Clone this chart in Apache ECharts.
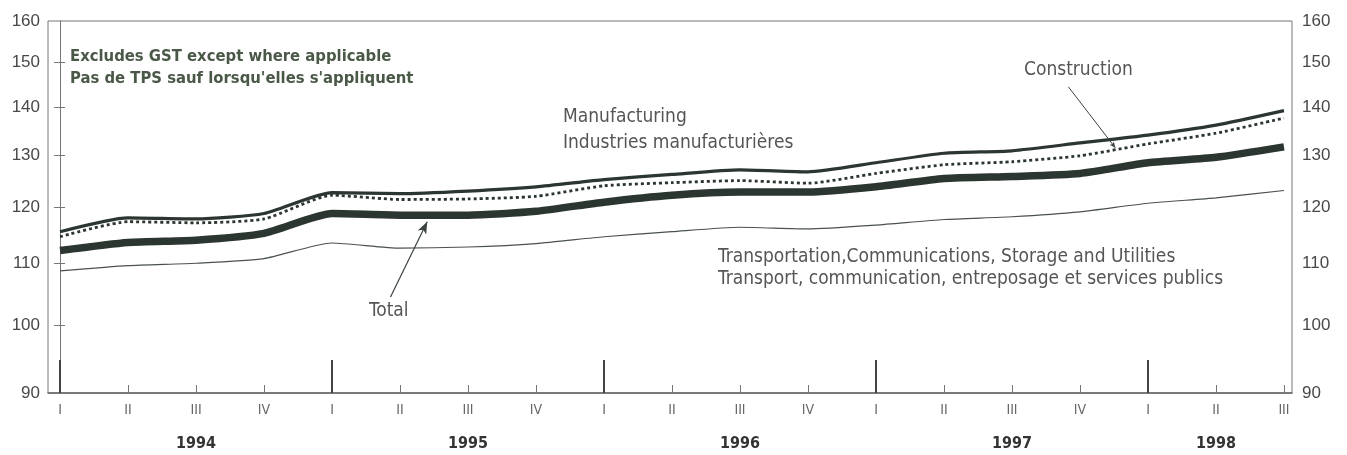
<!DOCTYPE html>
<html>
<head>
<meta charset="utf-8">
<script src="https://cdn.jsdelivr.net/npm/echarts@6/dist/echarts.min.js"></script>
<style>
html, body { margin: 0; padding: 0; background: #fff; }
#main { width: 1347px; height: 455px; }
</style>
</head>
<body>
<div id="main"></div>
<script>
// quarterly index, 1994 Q1 .. 1998 Q3
var quarters = ['I','II','III','IV','I','II','III','IV','I','II','III','IV','I','II','III','IV','I','II','III'];
var years = ['1994','1995','1996','1997','1998'];
var yTicks = [90, 100, 110, 120, 130, 140, 150, 160];

var manufacturing = [115.5,118,117.8,118.8,122.7,122.5,123,123.8,125.2,126.2,127.1,126.7,128.5,130.4,130.9,132.5,134.1,136.2,139.3];
var construction  = [114.6,117.3,117.1,117.8,122.2,121.4,121.5,122,124,124.6,125,124.5,126.4,128.1,128.7,129.9,132.3,134.5,137.7];
var total         = [112.2,113.6,114,115.2,118.8,118.5,118.5,119.2,120.9,122.2,122.8,122.8,123.8,125.4,125.8,126.4,128.5,129.6,131.7];
var transport     = [108.7,109.6,110,110.8,113.5,112.6,112.8,113.4,114.6,115.5,116.3,116,116.7,117.7,118.2,119.1,120.7,121.7,123.1];

var chart = echarts.init(document.getElementById('main'));

var narrow = "'Liberation Sans Narrow', 'DejaVu Sans Condensed', sans-serif";
var lineColor = '#2c3630';

function pairs(arr) {
    return arr.map(function (v, i) { return [i, v]; });
}

// quarter ticks (small) and year-start ticks (tall)
var qIdx = [], smallTicks = [], yearTicks = [], yearLabelAt = [];
quarters.forEach(function (q, i) {
    qIdx.push(i);
    if (q === 'I') yearTicks.push(i); else smallTicks.push(i);
});
yearTicks.forEach(function (s) {
    // year label sits under the third quarter (or middle of what is there)
    var last = Math.min(s + 3, quarters.length - 1);
    yearLabelAt.push(Math.min(s + 2, Math.round((s + last) / 2)));
});

var xMin = -0.177, xMax = 18.118;

var option = {
    animation: false,
    grid: {
        left: 48, right: 55, top: 21, bottom: 62,
        show: true, borderColor: '#777', borderWidth: 1
    },
    xAxis: [
        {
            type: 'value', min: xMin, max: xMax,
            axisLine: { show: true, lineStyle: { color: '#666', width: 1.5 } },
            axisTick: { show: true, inside: true, length: 8, customValues: smallTicks, lineStyle: { color: '#777' } },
            axisLabel: {
                customValues: qIdx, margin: 10, color: '#666', fontSize: 14, fontFamily: narrow,
                formatter: function (v) { return quarters[Math.round(v)]; }
            },
            splitLine: { show: false }
        },
        {
            type: 'value', min: xMin, max: xMax, position: 'bottom',
            axisLine: { show: false },
            axisTick: { show: true, inside: true, length: 33, customValues: yearTicks, lineStyle: { color: '#444', width: 2 } },
            axisLabel: {
                customValues: yearLabelAt, margin: 43, color: '#333', fontSize: 16, fontWeight: 'bold', fontFamily: narrow,
                formatter: function (v) {
                    var k = yearLabelAt.indexOf(Math.round(v));
                    return years[k];
                }
            },
            splitLine: { show: false }
        }
    ],
    yAxis: [
        {
            type: 'log', logBase: 10, min: 90, max: 160, position: 'left',
            axisLine: { show: true, lineStyle: { color: '#777' } },
            axisTick: { show: true, inside: true, length: 5, customValues: yTicks.slice(1, -1), lineStyle: { color: '#777' } },
            axisLabel: { customValues: yTicks, margin: 8, color: '#484848', fontSize: 17, fontFamily: "'Liberation Sans', sans-serif" },
            splitLine: { show: false }
        },
        {
            type: 'log', logBase: 10, min: 90, max: 160, position: 'right',
            axisLine: { show: true, lineStyle: { color: '#777' } },
            axisTick: { show: true, inside: true, length: 6, customValues: yTicks.slice(1, -1), lineStyle: { color: '#777' } },
            axisLabel: { customValues: yTicks, margin: 10, color: '#484848', fontSize: 17, fontFamily: "'Liberation Sans', sans-serif" },
            splitLine: { show: false }
        }
    ],
    series: [
        {
            name: 'Transportation', type: 'line', data: pairs(transport), showSymbol: false, smooth: 0.2,
            lineStyle: { color: '#4a524c', width: 1.2 }
        },
        {
            name: 'Total', type: 'line', data: pairs(total), showSymbol: false, smooth: 0.2,
            lineStyle: { color: lineColor, width: 7.5 },
            markLine: {
                silent: true, symbol: ['none', 'arrow'], symbolSize: [7, 12],
                label: { show: false },
                lineStyle: { color: '#3a433d', width: 1.2, type: 'solid' },
                data: [[{ coord: [4.86, 104.4] }, { coord: [5.4, 117.3] }]]
            }
        },
        {
            name: 'Construction', type: 'line', data: pairs(construction), showSymbol: false, smooth: 0.2,
            lineStyle: { color: lineColor, width: 2.8, type: [3, 3] },
            markLine: {
                silent: true, symbol: ['none', 'arrow'], symbolSize: [4, 6],
                label: { show: false },
                lineStyle: { color: '#3a433d', width: 1, type: 'solid' },
                data: [[{ coord: [14.83, 144.5] }, { coord: [15.52, 131.5] }]]
            }
        },
        {
            name: 'Manufacturing', type: 'line', data: pairs(manufacturing), showSymbol: false, smooth: 0.2,
            lineStyle: { color: lineColor, width: 3.2 }
        }
    ],
    graphic: [
        { type: 'text', left: 70, top: 46, style: { text: 'Excludes GST except where applicable\nPas de TPS sauf lorsqu\'elles s\'appliquent', fill: '#4a5947', font: 'bold 16.5px ' + narrow, lineHeight: 22 } },
        { type: 'text', left: 563, top: 104, style: { text: 'Manufacturing\nIndustries manufacturières', fill: '#555', font: '19px ' + narrow, lineHeight: 26 } },
        { type: 'text', left: 1024, top: 61, style: { text: 'Construction', fill: '#555', font: '19px ' + narrow } },
        { type: 'text', left: 718, top: 246, style: { text: 'Transportation,Communications, Storage and Utilities\nTransport, communication, entreposage et services publics', fill: '#555', font: '19px ' + narrow, lineHeight: 22 } },
        { type: 'text', left: 369, top: 302, style: { text: 'Total', fill: '#555', font: '19px ' + narrow } }
    ]
};

chart.setOption(option);
</script>
</body>
</html>
